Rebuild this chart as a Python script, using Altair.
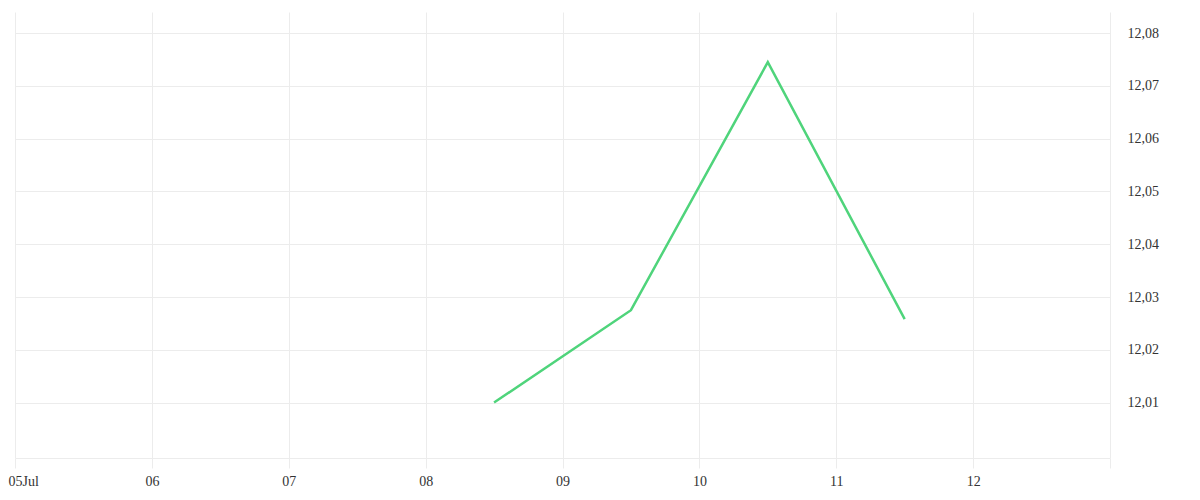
import altair as alt
import pandas as pd

dates = ["2024-07-08T12:00:00Z", "2024-07-09T12:00:00Z", "2024-07-10T12:00:00Z", "2024-07-11T12:00:00Z"]
values = [12.010, 12.0275, 12.0745, 12.0258]
y_ticks = [12.01, 12.02, 12.03, 12.04, 12.05, 12.06, 12.07, 12.08]
x_days = [5, 6, 7, 8, 9, 10, 11, 12, 13]

df = pd.DataFrame({"date": dates, "value": values})

FONT = "Liberation Serif"
GRID = "#ececec"

x_vals = [alt.DateTime(year=2024, month=7, date=d, utc=True) for d in x_days]

chart = alt.Chart(df).mark_line(color="#4fd47b", strokeWidth=2.5).encode(
    x=alt.X("date:T",
            scale=alt.Scale(type="utc",
                            domain=[alt.DateTime(year=2024, month=7, date=5, utc=True),
                                    alt.DateTime(year=2024, month=7, date=13, utc=True)]),
            axis=alt.Axis(values=x_vals, title=None, grid=True, gridColor=GRID,
                          domainColor=GRID, tickColor=GRID, tickSize=10,
                          labelExpr="utcdate(datum.value) == 5 ? '05Jul' : (utcdate(datum.value) == 13 ? '' : utcFormat(datum.value, '%d'))",
                          labelFont=FONT, labelFontSize=14, labelColor="#333333",
                          labelPadding=6, labelFlush=True, labelFlushOffset=7)),
    y=alt.Y("value:Q",
            scale=alt.Scale(domain=[11.9995, 12.084], nice=False, zero=False),
            axis=alt.Axis(orient="right", values=y_ticks, title=None, grid=True,
                          gridColor=GRID, domain=False, ticks=False,
                          labelExpr="replace(format(datum.value, '.2f'), '.', ',')",
                          labelFont=FONT, labelFontSize=14, labelColor="#333333",
                          labelPadding=17)),
).properties(
    width=1095, height=446,
    autosize=alt.AutoSizeParams(type="none"),
    padding={"left": 7, "top": 4, "right": 70, "bottom": 40},
).configure_view(stroke=None)

chart.save("out.html", embed_options={"renderer": "svg", "actions": False})
